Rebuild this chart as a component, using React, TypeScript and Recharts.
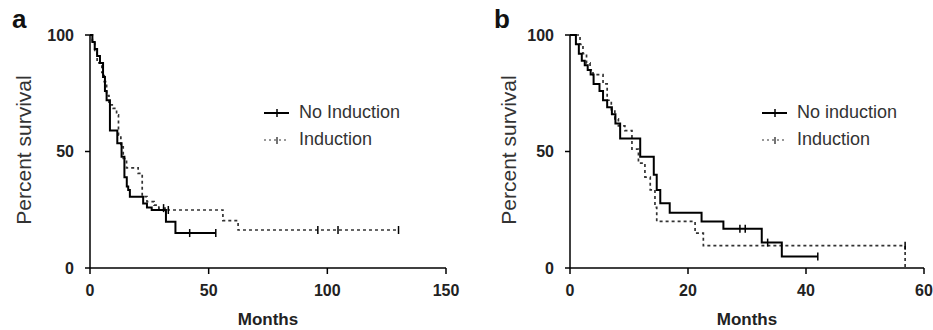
import React from 'react';
import { LineChart, Line, XAxis, YAxis, Label } from 'recharts';

// ---------- Panel a ----------
const aNoInductionMonths = [0, 1, 2, 3, 4.2, 5.5, 6.3, 7, 8.4, 11.5, 13.3, 14.5, 15.5, 16.1, 16.8, 22.4, 24, 26, 32, 36, 42, 53];
const aNoInductionSurvival = [100, 97, 94, 91, 88, 82, 76, 72, 59, 53.5, 47.8, 39, 35, 33.5, 30.6, 27.7, 26, 24.9, 19.9, 15, 15, 15];
const aNoInductionCensored = [0, 0, 0, 0, 0, 0, 0, 0, 0, 0, 0, 0, 0, 0, 0, 0, 0, 0, 0, 0, 1, 1];

const aInductionMonths = [0, 1, 2, 3, 5, 6, 7, 8, 9.8, 11.2, 12, 13, 14, 15.4, 20.3, 22, 24, 27, 29, 31, 33, 56, 62.4, 96, 104.5, 130];
const aInductionSurvival = [100, 97, 93, 88, 84, 80, 74, 70, 68.5, 65.7, 57, 52, 47, 43, 40.6, 30.6, 28.5, 27, 25.7, 25.7, 24.9, 20.3, 16.3, 16.3, 16.3, 16.3];
const aInductionCensored = [0, 0, 0, 0, 0, 0, 0, 0, 0, 0, 0, 0, 0, 0, 0, 0, 0, 0, 0, 1, 1, 0, 0, 1, 1, 1];

// ---------- Panel b ----------
const bNoInductionMonths = [0, 1, 1.5, 2, 2.5, 3, 3.5, 4, 5, 5.6, 6.3, 7.1, 7.7, 8.5, 11.9, 14.2, 14.7, 15.3, 16.9, 22.3, 26, 28.8, 29.7, 32.5, 33.5, 35.9, 42];
const bNoInductionSurvival = [100, 96, 92, 89, 87, 85, 83, 79, 76, 72, 69, 66, 62, 55.6, 47.8, 40, 33.5, 27.8, 23.7, 20, 16.8, 16.8, 16.8, 10.9, 10.9, 4.9, 4.9];
const bNoInductionCensored = [0, 0, 0, 0, 0, 0, 0, 0, 0, 0, 0, 0, 0, 0, 0, 0, 0, 0, 0, 0, 0, 1, 1, 0, 1, 0, 1];

const bInductionMonths = [0, 1.7, 2.2, 2.8, 3.4, 3.9, 5.6, 6.3, 7, 7.6, 8.2, 9.3, 10.5, 11.6, 12.7, 13.6, 14.4, 14.7, 21.2, 22.6, 56.8, 56.8];
const bInductionSurvival = [100, 96, 92, 88, 85, 83, 79, 72, 68, 64, 61, 59, 51, 45, 39, 33.5, 26, 20, 15, 9.6, 9.6, 0];
const bInductionCensored = [0, 0, 0, 0, 0, 0, 0, 0, 0, 0, 0, 0, 0, 0, 0, 0, 0, 0, 0, 0, 1, 0];

const aXTicks = [0, 50, 100, 150];
const bXTicks = [0, 20, 40, 60];
const yTicks = [0, 50, 100];

const build = (t: number[], s: number[], c: number[]) =>
  t.map((m, i) => ({ t: m, s: s[i], c: c[i] }));

const FONT = 'Arial, "Liberation Sans", sans-serif';

const CensorDot = (props: any) => {
  const { cx, cy, payload, index } = props;
  if (!payload || !payload.c || cx == null || cy == null) return <g key={`n${index}`} />;
  return (
    <line key={`c${index}`} x1={cx} x2={cx} y1={cy - 4} y2={cy + 4} stroke="#000" strokeWidth={1.5} />
  );
};

const LegendBox = ({ labels, left }: { labels: string[]; left: number }) => (
  <div
    style={{
      position: 'absolute',
      left,
      top: 99,
      fontFamily: FONT,
      fontSize: 18,
      color: '#333',
      lineHeight: '27px',
    }}
  >
    <div style={{ display: 'flex', alignItems: 'center' }}>
      <svg width={25} height={12} style={{ marginRight: 10 }}>
        <line x1={0} x2={25} y1={6} y2={6} stroke="#000" strokeWidth={2} />
        <line x1={13} x2={13} y1={2} y2={10} stroke="#000" strokeWidth={1.5} />
      </svg>
      <span>{labels[0]}</span>
    </div>
    <div style={{ display: 'flex', alignItems: 'center' }}>
      <svg width={25} height={12} style={{ marginRight: 10 }}>
        <line x1={0} x2={25} y1={6} y2={6} stroke="#777" strokeWidth={1.5} strokeDasharray="2 3" />
        <line x1={13} x2={13} y1={3} y2={10} stroke="#444" strokeWidth={1.5} />
      </svg>
      <span>{labels[1]}</span>
    </div>
  </div>
);

type PanelProps = {
  left: number;
  width: number;
  marginLeft: number;
  marginRight: number;
  xMax: number;
  xTicks: number[];
  solid: any[];
  dashed: any[];
  labels: string[];
  letter: string;
  letterX: number;
  yTitleX: number;
  legendLeft: number;
};

const Panel = (p: PanelProps) => {
  const plotLeft = p.marginLeft + 40;
  const plotRight = p.width - p.marginRight;
  const midX = (plotLeft + plotRight) / 2;
  return (
    <div style={{ position: 'absolute', left: p.left, top: 0, width: p.width, height: 330 }}>
      <LineChart
        width={p.width}
        height={330}
        margin={{ top: 35, right: p.marginRight, bottom: 32, left: p.marginLeft }}
      >
        <XAxis
          dataKey="t"
          type="number"
          domain={[0, p.xMax]}
          ticks={p.xTicks}
          allowDataOverflow
          height={30}
          tickSize={6}
          tickMargin={11}
          axisLine={{ stroke: '#000', strokeWidth: 1.5 }}
          tickLine={{ stroke: '#000', strokeWidth: 1.5 }}
          tick={{ fill: '#222', fontSize: 16, fontWeight: 'bold', fontFamily: FONT }}
        >
          <Label
            content={() => (
              <g>
                <text
                  x={p.letterX}
                  y={28}
                  fontFamily={FONT}
                  fontWeight="bold"
                  fontSize={26}
                  fill="#111"
                >
                  {p.letter}
                </text>
                <text
                  x={midX}
                  y={325}
                  textAnchor="middle"
                  fontFamily={FONT}
                  fontWeight="bold"
                  fontSize={17}
                  fill="#222"
                >
                  Months
                </text>
              </g>
            )}
          />
        </XAxis>
        <YAxis
          dataKey="s"
          type="number"
          domain={[0, 100]}
          ticks={yTicks}
          width={40}
          tickSize={5}
          tickMargin={11}
          axisLine={{ stroke: '#000', strokeWidth: 1.5 }}
          tickLine={{ stroke: '#000', strokeWidth: 1.5 }}
          tick={{ fill: '#222', fontSize: 16, fontWeight: 'bold', fontFamily: FONT }}
        >
          <Label
            content={() => (
              <text
                x={p.yTitleX}
                y={150}
                transform={`rotate(-90 ${p.yTitleX} 150)`}
                textAnchor="middle"
                dominantBaseline="central"
                fontFamily={FONT}
                fontSize={21}
                fill="#333"
              >
                Percent survival
              </text>
            )}
          />
        </YAxis>
        <Line
          data={p.dashed}
          dataKey="s"
          name={p.labels[1]}
          type="stepAfter"
          stroke="#333"
          strokeWidth={1.7}
          strokeDasharray="3 3"
          dot={CensorDot}
          activeDot={false}
          isAnimationActive={false}
        />
        <Line
          data={p.solid}
          dataKey="s"
          name={p.labels[0]}
          type="stepAfter"
          stroke="#000"
          strokeWidth={2}
          dot={CensorDot}
          activeDot={false}
          isAnimationActive={false}
        />
      </LineChart>
      <LegendBox labels={p.labels} left={p.legendLeft} />
    </div>
  );
};

export default function App() {
  return (
    <div style={{ position: 'absolute', left: 0, top: 0, width: 933, height: 330, background: '#fff' }}>
      <Panel
        left={0}
        width={470}
        marginLeft={50}
        marginRight={24}
        xMax={150}
        xTicks={aXTicks}
        solid={build(aNoInductionMonths, aNoInductionSurvival, aNoInductionCensored)}
        dashed={build(aInductionMonths, aInductionSurvival, aInductionCensored)}
        labels={['No Induction', 'Induction']}
        letter="a"
        letterX={12}
        yTitleX={23}
        legendLeft={264}
      />
      <Panel
        left={480}
        width={453}
        marginLeft={50}
        marginRight={9}
        xMax={60}
        xTicks={bXTicks}
        solid={build(bNoInductionMonths, bNoInductionSurvival, bNoInductionCensored)}
        dashed={build(bInductionMonths, bInductionSurvival, bInductionCensored)}
        labels={['No induction', 'Induction']}
        letter="b"
        letterX={14}
        yTitleX={28}
        legendLeft={282}
      />
    </div>
  );
}
